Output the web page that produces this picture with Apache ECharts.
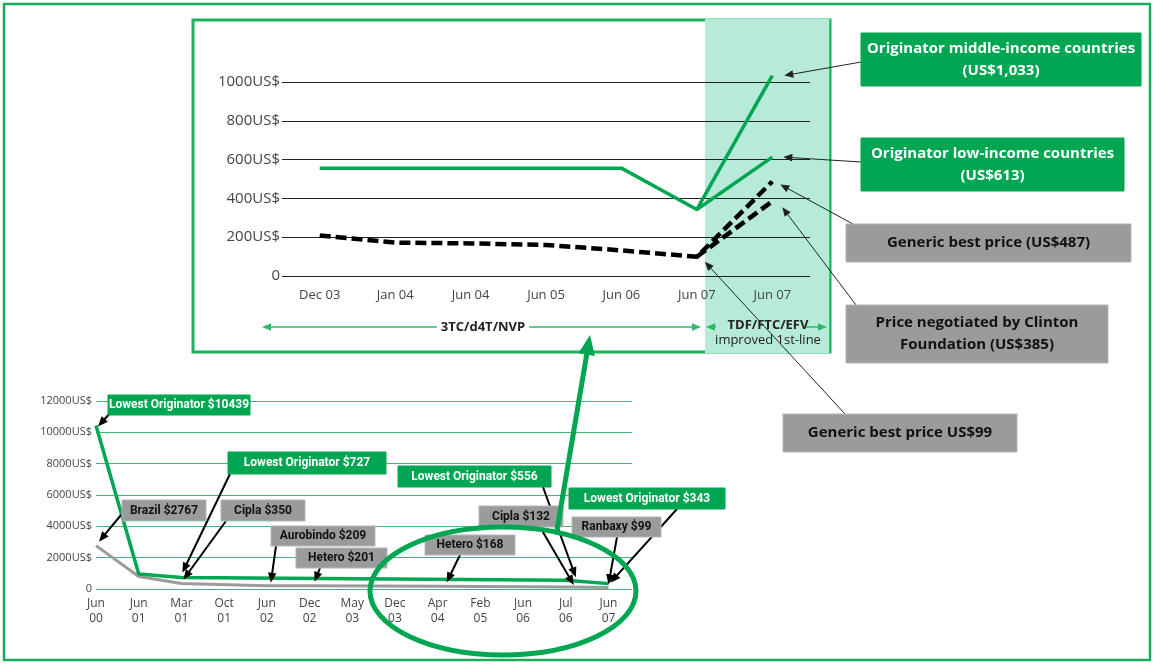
<!DOCTYPE html>
<html>
<head>
<meta charset="utf-8">
<script src="https://cdn.jsdelivr.net/npm/echarts@6/dist/echarts.min.js"></script>
<style>
  html, body { margin: 0; padding: 0; background: #fff; }
  #chart { width: 1154px; height: 664px; }
</style>
</head>
<body>
<div id="chart"></div>
<script>
// top panel: 3TC/d4T/NVP vs TDF/FTC/EFV prices (US$ per patient per year)
const topCats = ['Dec 03', 'Jan 04', 'Jun 04', 'Jun 05', 'Jun 06', 'Jun 07', 'Jun 07']
const lowIncome = [556, 556, 556, 556, 556, 343, 613]
const middleIncome = [null, null, null, null, null, 343, 1033]
const genericBest = [209, 172, 168, 160, 132, 99, 487]
const clintonPrice = [null, null, null, null, null, 99, 385]

// bottom panel: first-line prices since 2000
const bottomCats = ['Jun\n00', 'Jun\n01', 'Mar\n01', 'Oct\n01', 'Jun\n02', 'Dec\n02', 'May\n03',
  'Dec\n03', 'Apr\n04', 'Feb\n05', 'Jun\n06', 'Jul\n06', 'Jun\n07']
const lowestOriginator = [[0, 10439], [1, 958], [2, 727], [11, 556], [12, 343]]
const genericPrice = [[0, 2767], [1, 800], [2, 350], [4, 209], [5, 201], [8, 168], [11, 132], [12, 99]]

const GREEN = '#00a651'
const GREY = '#9b9b9b'
const FONT = '"Open Sans", sans-serif'
const BOX_FONT_SMALL = 'Roboto, sans-serif'

const chart = echarts.init(document.getElementById('chart'))

chart.setOption({
  animation: false,
  backgroundColor: '#fff',
  grid: [
    { left: 282, top: 82, width: 528, height: 194 },
    { left: 96, top: 401, width: 536, height: 188 }
  ],
  xAxis: [
    {
      type: 'category',
      gridIndex: 0,
      data: topCats,
      boundaryGap: true,
      axisLine: { show: false },
      axisTick: { show: false },
      axisLabel: { margin: 13, fontSize: 13, color: '#444', fontFamily: FONT, interval: 0 }
    },
    {
      type: 'value',
      gridIndex: 1,
      min: 0,
      max: 12.55,
      interval: 1,
      splitLine: { show: false },
      axisLine: { show: false },
      axisTick: { show: false },
      axisLabel: {
        margin: 7,
        fontSize: 12,
        lineHeight: 15,
        color: '#444',
        fontFamily: FONT,
        showMaxLabel: false,
        formatter: v => (Number.isInteger(v) && bottomCats[v]) || ''
      }
    }
  ],
  yAxis: [
    {
      type: 'value',
      gridIndex: 0,
      min: 0,
      max: 1000,
      interval: 200,
      axisLine: { show: false },
      axisTick: { show: false },
      splitLine: { lineStyle: { color: '#222', width: 1 } },
      axisLabel: {
        margin: 2,
        fontSize: 15,
        color: '#444',
        fontFamily: FONT,
        formatter: v => v === 0 ? '0' : v + 'US$'
      }
    },
    {
      type: 'value',
      gridIndex: 1,
      min: 0,
      max: 12000,
      interval: 2000,
      axisLine: { show: false },
      axisTick: { show: false },
      splitLine: { lineStyle: { color: '#3cb878', width: 1 } },
      axisLabel: {
        margin: 4,
        fontSize: 11,
        color: '#444',
        fontFamily: FONT,
        formatter: v => v === 0 ? '0' : v + 'US$'
      }
    }
  ],
  series: [
    {
      type: 'line', xAxisIndex: 0, yAxisIndex: 0, data: genericBest, symbol: 'none', clip: false,
      lineStyle: { color: '#000', width: 4.5, type: [11, 5] }
    },
    {
      type: 'line', xAxisIndex: 0, yAxisIndex: 0, data: clintonPrice, symbol: 'none', clip: false,
      lineStyle: { color: '#000', width: 4.5, type: [11, 5] }
    },
    {
      type: 'line', xAxisIndex: 0, yAxisIndex: 0, data: lowIncome, symbol: 'none', clip: false,
      lineStyle: { color: GREEN, width: 3.5 }
    },
    {
      type: 'line', xAxisIndex: 0, yAxisIndex: 0, data: middleIncome, symbol: 'none', clip: false,
      lineStyle: { color: GREEN, width: 3.5 }
    },
    {
      type: 'line', xAxisIndex: 1, yAxisIndex: 1, data: genericPrice, symbol: 'none', clip: false,
      lineStyle: { color: GREY, width: 3 }
    },
    {
      type: 'line', xAxisIndex: 1, yAxisIndex: 1, data: lowestOriginator, symbol: 'none', clip: false,
      lineStyle: { color: GREEN, width: 3.5 }
    }
  ]
})

// arrow = line + filled head
function arrow (x1, y1, x2, y2, color, width, head, z) {
  const dx = x2 - x1
  const dy = y2 - y1
  const len = Math.hypot(dx, dy)
  const ux = dx / len
  const uy = dy / len
  const bx = x2 - ux * head
  const by = y2 - uy * head
  const hw = head * 0.42
  return [
    { type: 'line', z, shape: { x1, y1, x2: bx + ux, y2: by + uy }, style: { stroke: color, lineWidth: width } },
    {
      type: 'polygon',
      z,
      shape: { points: [[x2, y2], [bx - uy * hw, by + ux * hw], [bx + uy * hw, by - ux * hw]] },
      style: { fill: color }
    }
  ]
}

function box (x, y, w, h, fill, color, text, size, family) {
  return [
    { type: 'rect', z: 20, shape: { x, y, width: w, height: h }, style: { fill, stroke: fill === GREY ? '#b5b5b5' : fill, lineWidth: 1 } },
    {
      type: 'text',
      z: 21,
      x: x + w / 2,
      y: y + h / 2,
      style: {
        text,
        fill: color,
        font: 'bold ' + size + 'px ' + family,
        lineHeight: size + 7,
        align: 'center',
        verticalAlign: 'middle',
        textAlign: 'center',
        textVerticalAlign: 'middle'
      }
    }
  ]
}

// callouts: box, start of the arrow, data point it points at (+ pixel nudge)
const callouts = [
  { r: [861, 33, 280, 53], c: 'g', t: 'Originator middle-income countries\n(US$1,033)', s: 15, from: [861, 62], g: 0, p: [6, 1033], off: [12, 0], thin: true },
  { r: [861, 138, 263, 53], c: 'g', t: 'Originator low-income countries\n(US$613)', s: 15, from: [861, 162], g: 0, p: [6, 613], off: [11, 0], thin: true },
  { r: [846, 224, 285, 38], c: 'k', t: 'Generic best price (US$487)', s: 15, from: [853, 224], g: 0, p: [6, 487], off: [8, 3], thin: true },
  { r: [846, 305, 262, 58], c: 'k', t: 'Price negotiated by Clinton\nFoundation (US$385)', s: 15, from: [856, 305], g: 0, p: [6, 385], off: [10, 6], thin: true },
  { r: [783, 414, 234, 38], c: 'k', t: 'Generic best price US$99', s: 15, from: [845, 414], g: 0, p: [5, 99], off: [8, 5], thin: true },

  { r: [108, 395, 142, 20], c: 'g', t: 'Lowest Originator $10439', s: 12, from: [112, 411], g: 1, p: [0, 10439], off: [2, 1] },
  { r: [122, 500, 84, 21], c: 'k', t: 'Brazil $2767', s: 12, from: [121, 515], g: 1, p: [0, 2767], off: [3, -4] },
  { r: [228, 452, 158, 22], c: 'g', t: 'Lowest Originator $727', s: 12, from: [230, 474], g: 1, p: [2, 727], off: [1, -5] },
  { r: [221, 500, 84, 21], c: 'k', t: 'Cipla $350', s: 12, from: [226, 521], g: 1, p: [2, 350], off: [2, -4] },
  { r: [271, 526, 104, 20], c: 'k', t: 'Aurobindo $209', s: 12, from: [276, 546], g: 1, p: [4, 209], off: [4, -3] },
  { r: [296, 548, 91, 20], c: 'k', t: 'Hetero $201', s: 12, from: [320, 568], g: 1, p: [5, 201], off: [5, -4] },
  { r: [398, 466, 153, 21], c: 'g', t: 'Lowest Originator $556', s: 12, from: [543, 487], g: 1, p: [11, 556], off: [10, -3] },
  { r: [425, 535, 90, 20], c: 'k', t: 'Hetero $168', s: 12, from: [460, 555], g: 1, p: [8, 168], off: [9, -4] },
  { r: [479, 506, 84, 21], c: 'k', t: 'Cipla $132', s: 12, from: [540, 527], g: 1, p: [11, 132], off: [8, -2] },
  { r: [569, 488, 156, 21], c: 'g', t: 'Lowest Originator $343', s: 12, from: [677, 509], g: 1, p: [12, 343], off: [2, -1] },
  { r: [572, 517, 89, 20], c: 'k', t: 'Ranbaxy $99', s: 12, from: [617, 537], g: 1, p: [12, 99], off: [0, -3] }
]

let elements = [
  // outer frame
  { type: 'rect', z: -20, shape: { x: 4, y: 4, width: 1146, height: 656 }, style: { fill: 'none', stroke: '#1aaa5a', lineWidth: 2.5 } },
  // top panel frame + shaded TDF/FTC/EFV band
  { type: 'rect', z: -20, shape: { x: 193, y: 20, width: 637, height: 332 }, style: { fill: '#fff', stroke: '#1bb35e', lineWidth: 3 } },
  { type: 'rect', z: -19, shape: { x: 705, y: 19, width: 125, height: 334 }, style: { fill: '#b7ead9', stroke: 'none' } },
  { type: 'line', z: -19, shape: { x1: 830, y1: 19, x2: 830, y2: 353 }, style: { stroke: '#1bb35e', lineWidth: 1.5 } },
  // regimen arrows
  { type: 'text', z: 6, x: 483, y: 327, style: { text: '3TC/d4T/NVP', font: 'bold 13px ' + FONT, fill: '#222', align: 'center', verticalAlign: 'middle', textAlign: 'center', textVerticalAlign: 'middle', backgroundColor: '#fff', padding: [0, 4] } },
  { type: 'text', z: 6, x: 768, y: 325, style: { text: 'TDF/FTC/EFV', font: 'bold 13px ' + FONT, fill: '#222', align: 'center', verticalAlign: 'middle', textAlign: 'center', textVerticalAlign: 'middle' } },
  { type: 'text', z: 6, x: 768, y: 340, style: { text: 'improved 1st-line', font: '13px ' + FONT, fill: '#222', align: 'center', verticalAlign: 'middle', textAlign: 'center', textVerticalAlign: 'middle' } },
  // highlight ellipse on recent years
  { type: 'ellipse', z: 25, shape: { cx: 503, cy: 591, rx: 133, ry: 64 }, style: { fill: 'none', stroke: GREEN, lineWidth: 5 } }
]
elements = elements.concat(
  arrow(483, 327, 262, 327, '#2fb868', 1.5, 9, 5),
  arrow(483, 327, 701, 327, '#2fb868', 1.5, 9, 5),
  arrow(716, 327, 706, 327, '#2fb868', 1.5, 9, 5),
  arrow(806, 327, 827, 327, '#2fb868', 1.5, 9, 5),
  arrow(557, 530, 590, 335, GREEN, 5, 20, 22)
)

callouts.forEach(a => {
  const fill = a.c === 'g' ? GREEN : GREY
  const color = a.c === 'g' ? '#fff' : '#111'
  const family = a.s < 14 ? BOX_FONT_SMALL : FONT
  const pt = chart.convertToPixel({ gridIndex: a.g }, a.p)
  const tx = pt[0] + a.off[0]
  const ty = pt[1] + a.off[1]
  elements = elements.concat(box(a.r[0], a.r[1], a.r[2], a.r[3], fill, color, a.t, a.s, family))
  if (a.thin) {
    elements = elements.concat(arrow(a.from[0], a.from[1], tx, ty, '#222', 1, 9, 19))
  } else {
    elements = elements.concat(arrow(a.from[0], a.from[1], tx, ty, '#000', 2, 10, 19))
  }
})

chart.setOption({ graphic: { elements } })

window.addEventListener('resize', () => chart.resize())
</script>
</body>
</html>
